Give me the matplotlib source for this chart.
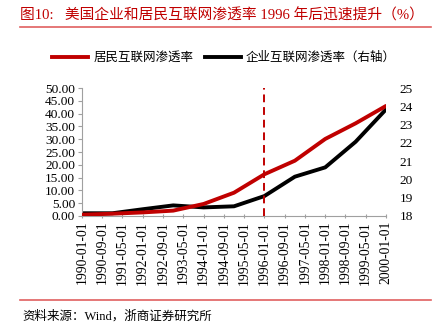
import matplotlib
matplotlib.use("Agg")
import matplotlib.pyplot as plt
import pandas as pd
from matplotlib.lines import Line2D

plt.rcParams['font.family'] = ['Liberation Serif', 'Noto Sans CJK SC', 'DejaVu Sans']

years = ["1990-01-01", "1991-01-01", "1992-01-01", "1993-01-01", "1994-01-01", "1995-01-01",
         "1996-01-01", "1997-01-01", "1998-01-01", "1999-01-01", "2000-01-01"]
household = [0.5, 0.9, 1.4, 2.1, 4.7, 9.1, 16.3, 21.6, 30.1, 36.2, 43.0]
enterprise = [18.15, 18.15, 18.37, 18.58, 18.47, 18.53, 19.09, 20.15, 20.66, 22.06, 23.83]
tick_labels = ["1990-01-01", "1990-09-01", "1991-05-01", "1992-01-01", "1992-09-01", "1993-05-01",
               "1994-01-01", "1994-09-01", "1995-05-01", "1996-01-01", "1996-09-01", "1997-05-01",
               "1998-01-01", "1998-09-01", "1999-05-01", "2000-01-01"]
left_ticks = [0, 5, 10, 15, 20, 25, 30, 35, 40, 45, 50]
right_ticks = [18, 19, 20, 21, 22, 23, 24, 25]
marker_date = "1996-01-01"
title = "图10:   美国企业和居民互联网渗透率 1996 年后迅速提升（%）"
series_names = ["居民互联网渗透率", "企业互联网渗透率（右轴）"]
source = "资料来源：Wind，浙商证券研究所"

RED = "#C00000"
x = pd.to_datetime(years)
xt = pd.to_datetime(tick_labels)

fig = plt.figure(figsize=(4.41, 3.36), dpi=100)
ax = fig.add_axes([82/441, 1-216/336, (386-82)/441, 128/336])
ax2 = ax.twinx()

ax.plot(x, household, color=RED, lw=2.8, solid_capstyle='round', zorder=3)
ax2.plot(x, enterprise, color='black', lw=2.8, solid_capstyle='round', zorder=2)
ax.axvline(pd.to_datetime(marker_date), color=RED, lw=1.4, ls=(0, (4, 2.5)), zorder=4)

ax.set_zorder(ax2.get_zorder() + 1)
ax.patch.set_visible(False)

ax.set_xlim(xt[0], xt[-1])
ax.set_ylim(0, 50)
ax2.set_ylim(18, 25)
ax.set_yticks(left_ticks)
ax.set_yticklabels([f"{v:.2f}" for v in left_ticks], fontsize=9.6)
ax2.set_yticks(right_ticks)
ax2.set_yticklabels([str(v) for v in right_ticks], fontsize=9.6)
ax.set_xticks(xt)
ax.set_xticklabels(tick_labels, rotation=90, fontsize=9.8)

for a in (ax, ax2):
    for s in a.spines.values():
        s.set_visible(False)
ax.spines['left'].set_visible(True)
ax.spines['left'].set_color('#A0A0A0')
ax.spines['bottom'].set_visible(True)
ax.spines['bottom'].set_color('#A0A0A0')
ax.tick_params(axis='y', length=3, color='#A0A0A0', pad=2)
ax.tick_params(axis='x', length=3, color='#A0A0A0', direction='inout', pad=2)
ax2.tick_params(axis='y', length=0, pad=10)

fig.text(20/441, 1-15/336, title, color=RED, fontsize=10.6, va='center', ha='left')
fig.add_artist(Line2D([20/441, 431/441], [1-26.5/336, 1-26.5/336], color='#E06060', lw=1.2))
fig.add_artist(Line2D([20/441, 431/441], [1-300/336, 1-300/336], color='#E06060', lw=1.2))
fig.text(22/441, 1-316/336, source, fontsize=9, va='center', ha='left')

handles = [Line2D([0], [0], color=RED, lw=2.8), Line2D([0], [0], color='black', lw=2.8)]
fig.legend(handles, series_names, loc='center', bbox_to_anchor=(224/441, 1-58/336), ncol=2,
           frameon=False, fontsize=9, handlelength=2.9, handletextpad=0.4, columnspacing=0.9)

fig.savefig("out.png", dpi=100)
